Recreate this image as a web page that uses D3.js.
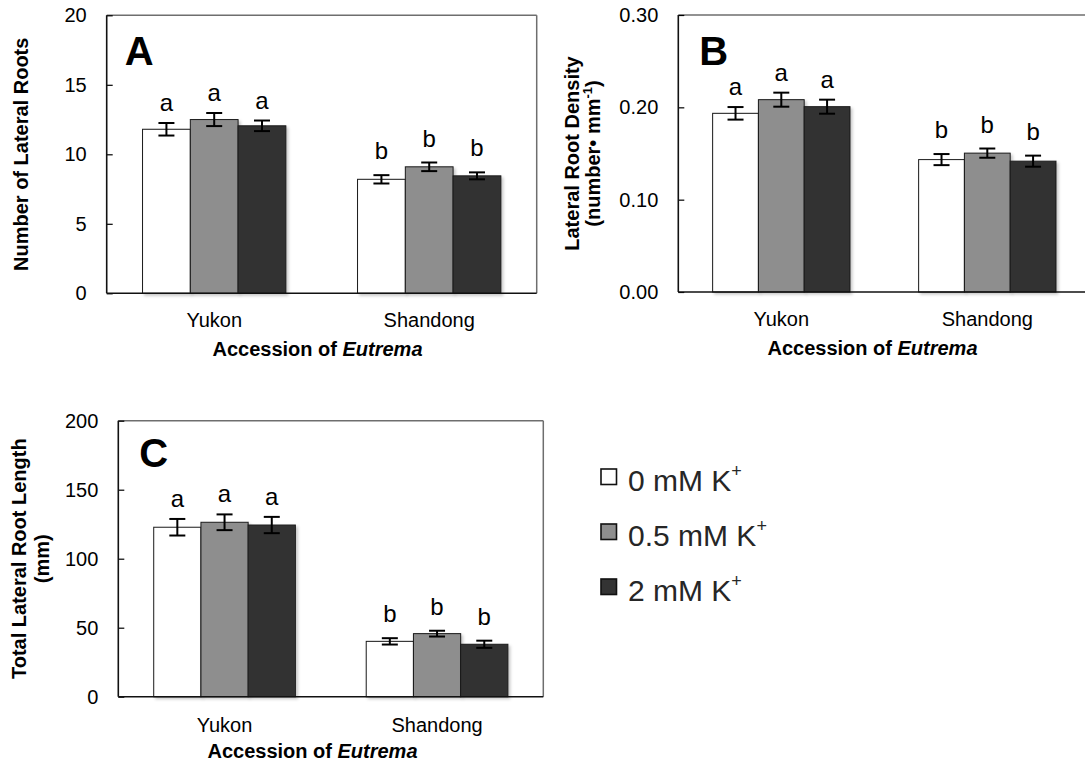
<!DOCTYPE html>
<html><head><meta charset="utf-8">
<script src="https://cdn.jsdelivr.net/npm/d3@7"></script>
<style>
body{margin:0;background:#fff}
svg{display:block;font-family:"Liberation Sans",Arial,Helvetica,sans-serif}
</style>
</head><body>
<svg id="chart" width="1085" height="770"></svg>
<script>
// ---------- data ----------
const categories = ["Yukon", "Shandong"];
const seriesNames = ["0 mM K", "0.5 mM K", "2 mM K"];
const seriesColors = ["#ffffff", "#8e8e8e", "#333333"];

// Panel A: number of lateral roots  (rows = categories, cols = series)
const numberMeans = [[11.8, 12.5, 12.05], [8.2, 9.1, 8.45]];
const numberErrs  = [[0.45, 0.47, 0.38], [0.3, 0.31, 0.25]];
const numberLetters = [["a", "a", "a"], ["b", "b", "b"]];
const numberTicks = [0, 5, 10, 15, 20];

// Panel B: lateral root density
const densityMeans = [[0.1935, 0.2083, 0.2007], [0.1434, 0.1504, 0.1417]];
const densityErrs  = [[0.0068, 0.0076, 0.0076], [0.006, 0.005, 0.006]];
const densityLetters = [["a", "a", "a"], ["b", "b", "b"]];
const densityTicks = [0, 0.1, 0.2, 0.3];

// Panel C: total lateral root length
const lengthMeans = [[122.8, 126.4, 124.4], [40.1, 45.7, 38.0]];
const lengthErrs  = [[6.0, 5.7, 5.9], [2.3, 2.1, 2.6]];
const lengthLetters = [["a", "a", "a"], ["b", "b", "b"]];
const lengthTicks = [0, 50, 100, 150, 200];

// ---------- layout ----------
const svg = d3.select("#chart");
const defs = svg.append("defs");
const f = defs.append("filter").attr("id", "shadow")
  .attr("x", "-10%").attr("y", "-10%").attr("width", "130%").attr("height", "130%");
f.append("feDropShadow").attr("dx", 2).attr("dy", 2).attr("stdDeviation", 1.5)
  .attr("flood-color", "#000").attr("flood-opacity", 0.22);

const panels = [
  {letter: "A", left: 106.7, right: 536.7, top: 15.3, bottom: 293.3,
   means: numberMeans, errs: numberErrs, letters: numberLetters, ticks: numberTicks,
   fmt: d3.format("d"), titleX: 317.5, titleY: 356, catPad: 20,
   yTitle: ["Number of Lateral Roots"], yTitleX: [28.3]},
  {letter: "B", left: 678.3, right: 1090.3, top: 15, bottom: 292,
   means: densityMeans, errs: densityErrs, letters: densityLetters, ticks: densityTicks,
   fmt: d3.format(".2f"), titleX: 872.5, titleY: 355, catPad: 20,
   yTitle: ["Lateral Root Density", "density2"], yTitleX: [579, 600]},
  {letter: "C", left: 118.3, right: 543.3, top: 420.7, bottom: 696.7,
   means: lengthMeans, errs: lengthErrs, letters: lengthLetters, ticks: lengthTicks,
   fmt: d3.format("d"), titleX: 312.5, titleY: 758.3, catPad: 21,
   yTitle: ["Total Lateral Root Length", "(mm)"], yTitleX: [25.5, 49]}
];

panels.forEach(p => {
  const g = svg.append("g");
  const x0 = d3.scaleBand().domain(categories).range([p.left, p.right]);
  const bw = x0.bandwidth();
  const x1 = d3.scaleBand().domain(d3.range(seriesNames.length)).range([bw / 6, bw * 5 / 6]);
  const y = d3.scaleLinear().domain([d3.min(p.ticks), d3.max(p.ticks)]).range([p.bottom, p.top]);

  // frame top/right (gray)
  g.append("line").attr("x1", p.left).attr("x2", p.right).attr("y1", p.top).attr("y2", p.top)
    .attr("stroke", "#6e6e6e").attr("stroke-width", 1.5);
  g.append("line").attr("x1", p.right).attr("x2", p.right).attr("y1", p.top).attr("y2", p.bottom)
    .attr("stroke", "#6e6e6e").attr("stroke-width", 1.5);

  const rows = categories.flatMap((c, ci) => seriesNames.map((s, si) => ({
    c, si, v: p.means[ci][si], e: p.errs[ci][si], l: p.letters[ci][si]})));

  g.append("g").selectAll("rect").data(rows).join("rect")
    .attr("x", d => x0(d.c) + x1(d.si))
    .attr("y", d => y(d.v))
    .attr("width", x1.bandwidth())
    .attr("height", d => y(0) - y(d.v))
    .attr("fill", d => seriesColors[d.si])
    .attr("stroke", "#1a1a1a").attr("stroke-width", 1)
    .attr("filter", "url(#shadow)");

  const eb = g.append("g").attr("stroke", "#000").attr("stroke-width", 2);
  rows.forEach(d => {
    const cx = x0(d.c) + x1(d.si) + x1.bandwidth() / 2;
    eb.append("line").attr("x1", cx).attr("x2", cx).attr("y1", y(d.v - d.e)).attr("y2", y(d.v + d.e));
    eb.append("line").attr("x1", cx - 8).attr("x2", cx + 8).attr("y1", y(d.v - d.e)).attr("y2", y(d.v - d.e));
    eb.append("line").attr("x1", cx - 8).attr("x2", cx + 8).attr("y1", y(d.v + d.e)).attr("y2", y(d.v + d.e));
  });

  g.append("g").selectAll("text").data(rows).join("text")
    .attr("x", d => x0(d.c) + x1(d.si) + x1.bandwidth() / 2)
    .attr("y", d => y(d.v + d.e) - (d.l === "a" ? 12 : 16))
    .attr("text-anchor", "middle").attr("font-size", 24).attr("fill", "#000")
    .text(d => d.l);

  // y axis
  const ya = g.append("g").attr("transform", `translate(${p.left},0)`)
    .call(d3.axisLeft(y).tickValues(p.ticks).tickFormat(p.fmt).tickSize(-6).tickPadding(20));
  ya.select(".domain").remove();
  ya.selectAll("line").attr("stroke", "#000").attr("stroke-width", 1.2);
  ya.selectAll("text").attr("font-size", 20).attr("fill", "#000")
    .attr("font-family", "Liberation Sans, Arial, sans-serif");

  // x axis
  const xa = g.append("g").attr("transform", `translate(0,${p.bottom})`)
    .call(d3.axisBottom(x0).tickSize(0).tickPadding(p.catPad));
  xa.select(".domain").remove();
  xa.selectAll("text").attr("font-size", 20).attr("fill", "#000")
    .attr("font-family", "Liberation Sans, Arial, sans-serif");

  // frame left/bottom (black)
  g.append("line").attr("x1", p.left).attr("x2", p.left).attr("y1", p.top).attr("y2", p.bottom)
    .attr("stroke", "#111").attr("stroke-width", 1.6);
  g.append("line").attr("x1", p.left).attr("x2", p.right).attr("y1", p.bottom).attr("y2", p.bottom)
    .attr("stroke", "#111").attr("stroke-width", 1.6);

  // panel letter
  g.append("text").attr("x", p.left + (p.letter === "A" ? 18 : 21)).attr("y", p.top + (p.letter === "C" ? 46 : 50))
    .attr("font-size", 40).attr("font-weight", "bold").text(p.letter);

  // x title
  const xt = g.append("text").attr("x", p.titleX).attr("y", p.titleY)
    .attr("text-anchor", "middle").attr("font-size", 20).attr("font-weight", "bold");
  xt.append("tspan").text("Accession of ");
  xt.append("tspan").attr("font-style", "italic").text("Eutrema");

  // y title
  const cy = (p.top + p.bottom) / 2;
  p.yTitle.forEach((t, i) => {
    const tx = g.append("text").attr("transform", `translate(${p.yTitleX[i]},${cy}) rotate(-90)`)
      .attr("text-anchor", "middle").attr("font-size", 20).attr("font-weight", "bold");
    if (t === "density2") {
      tx.append("tspan").text("(number\u2022 mm");
      tx.append("tspan").attr("font-size", 13).attr("dy", -8).text("-1");
      tx.append("tspan").attr("dy", 8).text(")");
    } else {
      tx.text(t);
    }
  });
});

// ---------- legend ----------
const legend = svg.append("g");
const legendRows = [476.5, 531.5, 586.5];
seriesNames.forEach((s, i) => {
  const ly = legendRows[i];
  legend.append("rect").attr("x", 601).attr("y", ly - 7.5).attr("width", 15.5).attr("height", 15.5)
    .attr("fill", seriesColors[i]).attr("stroke", "#111").attr("stroke-width", 1.6);
  const t = legend.append("text").attr("x", 628).attr("y", ly + 14)
    .attr("font-size", 30).attr("fill", "#262626");
  t.append("tspan").text(s);
  t.append("tspan").attr("font-size", 18).attr("dy", -14).text("+");
});
</script>
</body></html>
